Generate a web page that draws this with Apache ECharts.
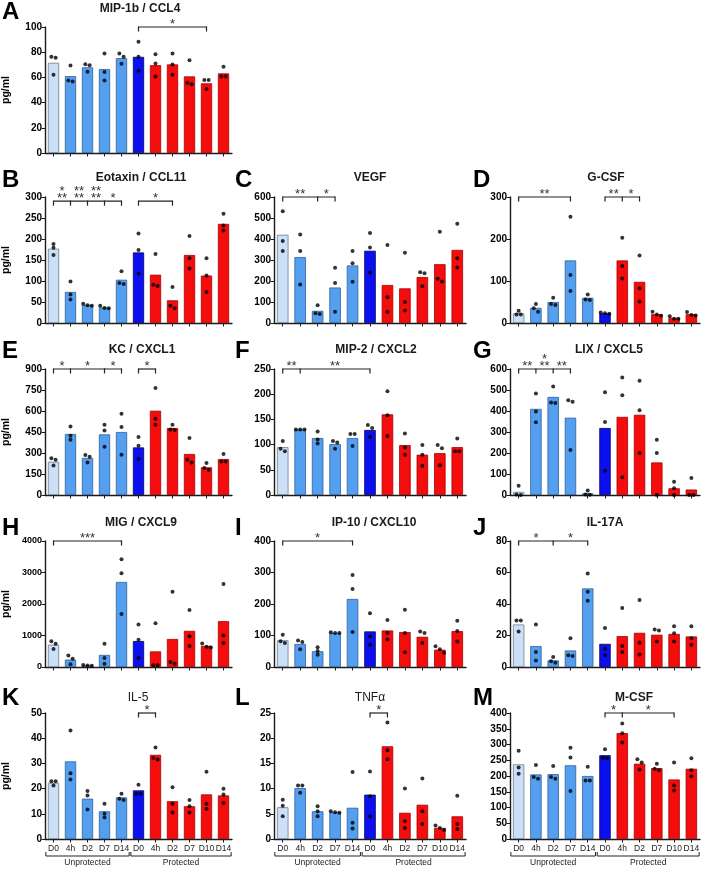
<!DOCTYPE html>
<html><head><meta charset="utf-8">
<script src="https://cdn.jsdelivr.net/npm/echarts@6/dist/echarts.min.js"></script>
<style>html,body{margin:0;padding:0;background:#fff}#c{width:704px;height:873px}</style>
</head><body><div id="c"></div>
<script>
// ---------- shared category data ----------
const xLabels = ['D0','4h','D2','D7','D14','D0','4h','D2','D7','D10','D14'];
const groupLabels = ['Unprotected','Protected'];
const groupRanges = [[0,4],[5,10]];

// ---------- A: MIP-1b / CCL4 ----------
const titleA = 'MIP-1b / CCL4';
const meanA = [71.6, 61, 68, 66.6, 75.3, 76.3, 69.7, 70.3, 60.8, 55.3, 63.2];
const ptsA = [[76.3,75.5,62.1],[69.5,57.6,56.8],[70.5,69.7,64.5],[79,64.2,57.6],[79,76.3,70.8],[88.2,76.3,65.3],[78.4,71,60.8],[79,70.3,62.1],[73.7,55.8,54.5],[57.9,57.9,50.8],[68.4,60.8,60.8]];
const ticksA = [0,20,40,60,80,100];
const sigBarsA = [[5,9,100,[]]];
const sigStarsA = [[7,100,'*']];

// ---------- B: Eotaxin / CCL11 ----------
const titleB = 'Eotaxin / CCL11';
const meanB = [177, 74, 43, 37, 103, 168, 115, 54, 162, 113, 236];
const ptsB = [[188,179,162],[99,68,56],[46,42,41],[41,36,35],[123,95,93],[213,174,118],[164,91,88],[86,41,35],[207,154,130],[154,113,74],[260,232,220]];
const ticksB = [0,50,100,150,200,250,300];
const sigBarsB = [[0,4,290,[1,2,3]],[5,7,290,[]]];
const sigStarsB = [[0.5,290,'**',1],[0.5,290,'*',2],[1.5,290,'**',1],[1.5,290,'**',2],[2.5,290,'**',1],[2.5,290,'**',2],[3.5,290,'*',1],[6,290,'*',1]];

// ---------- C: VEGF ----------
const titleC = 'VEGF';
const meanC = [420, 314, 58, 169, 274, 344, 181, 165, 219, 280, 348];
const ptsC = [[532,390,343],[422,343,183],[84,47,43],[263,190,53],[343,285,197],[429,360,241],[371,123,53],[335,100,60],[242,237,175],[434,211,198],[473,308,264]];
const ticksC = [0,100,200,300,400,500,600];
const sigBarsC = [[0,3,600,[2]]];
const sigStarsC = [[1,600,'**'],[2.5,600,'*']];

// ---------- D: G-CSF ----------
const titleD = 'G-CSF';
const meanD = [23, 36, 50, 149, 60, 23, 149, 98, 21, 12, 21];
const ptsD = [[29,20,20],[45,35,27],[60,45,43],[253,114,76],[68,56,55],[25,23,22],[203,136,106],[161,83,51],[27,20,17],[16,10,10],[26,19,18]];
const ticksD = [0,100,200,300];
const sigBarsD = [[0,3,300,[]],[5,7,300,[6]]];
const sigStarsD = [[1.5,300,'**'],[5.5,300,'**'],[6.5,300,'*']];

// ---------- E: KC / CXCL1 ----------
const titleE = 'KC / CXCL1';
const meanE = [238, 436, 265, 433, 450, 340, 602, 478, 293, 198, 257];
const ptsE = [[262,252,210],[490,423,395],[286,274,233],[502,460,345],[581,486,288],[414,352,257],[764,545,502],[502,467,465],[407,252,233],[229,193,179],[293,240,240]];
const ticksE = [0,150,300,450,600,750,900];
const sigBarsE = [[0,4,900,[1,3]],[5,6,900,[]]];
const sigStarsE = [[0.5,900,'*'],[2,900,'*'],[3.5,900,'*'],[5.5,900,'*']];

// ---------- F: MIP-2 / CXCL2 ----------
const titleF = 'MIP-2 / CXCL2';
const meanF = [95, 130, 113, 101, 113, 129, 160, 99, 80, 83, 95];
const ptsF = [[107,92,87],[130,130,130],[126,110,102],[107,104,92],[121,121,97],[139,133,115],[206,158,117],[122,94,80],[99,80,58],[99,93,59],[112,87,87]];
const ticksF = [0,50,100,150,200,250];
const sigBarsF = [[0,5,250,[1]]];
const sigStarsF = [[0.5,250,'**'],[3,250,'**']];

// ---------- G: LIX / CXCL5 ----------
const titleG = 'LIX / CXCL5';
const meanG = [15, 410, 467, 368, 8, 319, 372, 382, 155, 32, 26];
const ptsG = [[44,2,0],[483,398,346],[517,441,438],[451,444,214],[21,2,1],[489,348,116],[560,475,84],[544,403,200],[263,200,0],[63,32,0],[81,0,0]];
const ticksG = [0,100,200,300,400,500,600];
const sigBarsG = [[0,3,600,[1,2]]];
const sigStarsG = [[0.5,600,'**',1],[1.5,600,'**',1],[1.5,600,'*',2],[2.5,600,'**',1]];

// ---------- H: MIG / CXCL9 ----------
const titleH = 'MIG / CXCL9';
const meanH = [710, 235, 50, 385, 2700, 825, 495, 890, 1148, 670, 1455];
const ptsH = [[820,740,570],[368,263,84],[60,45,40],[737,284,105],[3421,2979,1684],[1347,863,284],[1389,53,53],[2389,158,105],[1810,979,663],[750,640,620],[2632,1000,758]];
const ticksH = [0,1000,2000,3000,4000];
const sigBarsH = [[0,4,4000,[]]];
const sigStarsH = [[2,4000,'***']];

// ---------- I: IP-10 / CXCL10 ----------
const titleI = 'IP-10 / CXCL10';
const meanI = [85, 73, 50, 108, 216, 113, 116, 111, 96, 55, 114];
const ptsI = [[102,82,76],[84,79,56],[63,51,39],[110,108,108],[292,248,111],[171,98,71],[149,108,87],[182,108,47],[113,108,76],[66,56,45],[147,114,81]];
const ticksI = [0,100,200,300,400];
const sigBarsI = [[0,4,400,[]]];
const sigStarsI = [[2,400,'*']];

// ---------- J: IL-17A ----------
const titleJ = 'IL-17A';
const meanJ = [27, 13.3, 4.2, 10.5, 49.9, 14.7, 19.6, 21.7, 20.5, 21, 19.4];
const ptsJ = [[29.5,29.5,22.5],[27,9.5,4.2],[6.3,3.6,2.7],[18.3,7.4,7],[59.4,47.8,42.1],[24.8,11.6,7.4],[37.5,13.3,9.5],[42.5,15.4,8],[23.8,23.2,16.2],[25.9,21.5,16.2],[25.9,18.3,14.1]];
const ticksJ = [0,20,40,60,80];
const sigBarsJ = [[0,4,80,[2]]];
const sigStarsJ = [[1,80,'*'],[3,80,'*']];

// ---------- K: IL-5 ----------
const titleK = 'IL-5';
const meanK = [22.3, 30.8, 16, 11, 16.5, 19.3, 33.4, 15, 13, 17.7, 17.3];
const ptsK = [[22.9,22.9,21.2],[43.1,26.1,23.6],[19,17.3,11.7],[14,10,8.5],[18,16,15.5],[21.5,18,18],[36.3,32.1,31.5],[20.5,14,10.5],[15.5,13,10.5],[26.7,14,12],[19.9,17.7,14.3]];
const ticksK = [0,10,20,30,40,50];
const sigBarsK = [[5,6,50,[]]];
const sigStarsK = [[5.5,50,'*']];

// ---------- L: TNFα ----------
const titleL = 'TNFα';
const meanL = [6.3, 10.1, 5.5, 5.3, 6.2, 8.8, 18.4, 5.2, 6.8, 2.2, 4.5];
const ptsL = [[7.8,6.6,4.5],[10.6,10.6,9.2],[6.5,5.5,4.5],[5.5,5.3,5.2],[13.3,3.2,2.1],[13.4,8.5,4.5],[23.1,17.6,15.8],[10,3.5,2.2],[12,5.5,3],[2.7,2.2,1.8],[8.6,3,2]];
const ticksL = [0,5,10,15,20,25];
const sigBarsL = [[5,6,25,[]]];
const sigStarsL = [[5.5,25,'*']];

// ---------- M: M-CSF ----------
const titleM = 'M-CSF';
const meanM = [237, 205, 206, 234, 200, 266, 336, 239, 225, 189, 223];
const ptsM = [[280,227,207],[235,197,191],[232,197,191],[290,259,152],[229,186,186],[285,258,256],[367,336,306],[253,243,221],[239,223,218],[243,170,154],[256,218,199]];
const ticksM = [0,50,100,150,200,250,300,350,400];
const sigBarsM = [[5,9,400,[6]]];
const sigStarsM = [[5.5,400,'*'],[7.5,400,'*']];

// ---------- layout / style ----------
const FONT = 'Liberation Sans, Arial, sans-serif';
const colLeft = [41, 274, 510], colWidth = [191, 192, 190];
const rowTop = [27, 197, 369, 541, 713], plotH = 126;
const colLetterX = [2, 235, 473];
const letterY = [12, 180.5, 351.5, 528, 698];
const titleY = [8.5, 178, 350, 522.5, 697.5];
const barKind = ['light','mid','mid','mid','mid','dark','red','red','red','red','red'];
const barStyle = {
  light: {color:'#cbdff6', borderColor:'#6c7c90', borderWidth:0.8},
  mid:   {color:'#559ff0', borderColor:'#2e5f98', borderWidth:0.8},
  dark:  {color:'#0c10ee', borderColor:'#00006a', borderWidth:0.8},
  red:   {color:'#f50c0c', borderColor:'#a80000', borderWidth:0.8}
};

const panels = [
  {L:'A', t:titleA, m:meanA, p:ptsA, tk:ticksA, b:sigBarsA, s:sigStarsA, r:0, c:0, tx:140},
  {L:'B', t:titleB, m:meanB, p:ptsB, tk:ticksB, b:sigBarsB, s:sigStarsB, r:1, c:0, tx:141},
  {L:'C', t:titleC, m:meanC, p:ptsC, tk:ticksC, b:sigBarsC, s:sigStarsC, r:1, c:1, tx:370},
  {L:'D', t:titleD, m:meanD, p:ptsD, tk:ticksD, b:sigBarsD, s:sigStarsD, r:1, c:2, tx:606},
  {L:'E', t:titleE, m:meanE, p:ptsE, tk:ticksE, b:sigBarsE, s:sigStarsE, r:2, c:0, tx:142},
  {L:'F', t:titleF, m:meanF, p:ptsF, tk:ticksF, b:sigBarsF, s:sigStarsF, r:2, c:1, tx:376},
  {L:'G', t:titleG, m:meanG, p:ptsG, tk:ticksG, b:sigBarsG, s:sigStarsG, r:2, c:2, tx:609},
  {L:'H', t:titleH, m:meanH, p:ptsH, tk:ticksH, b:sigBarsH, s:sigStarsH, r:3, c:0, tx:141},
  {L:'I', t:titleI, m:meanI, p:ptsI, tk:ticksI, b:sigBarsI, s:sigStarsI, r:3, c:1, tx:374},
  {L:'J', t:titleJ, m:meanJ, p:ptsJ, tk:ticksJ, b:sigBarsJ, s:sigStarsJ, r:3, c:2, tx:605},
  {L:'K', t:titleK, m:meanK, p:ptsK, tk:ticksK, b:sigBarsK, s:sigStarsK, r:4, c:0, tx:138, light:true},
  {L:'L', t:titleL, m:meanL, p:ptsL, tk:ticksL, b:sigBarsL, s:sigStarsL, r:4, c:1, tx:370, light:true},
  {L:'M', t:titleM, m:meanM, p:ptsM, tk:ticksM, b:sigBarsM, s:sigStarsM, r:4, c:2, tx:634}
];

const grids = [], xAxes = [], yAxes = [], series = [], graphics = [];
const lineCol = '#1a1a1a';

panels.forEach((P, i) => {
  const max = P.tk[P.tk.length-1], step = P.tk[1]-P.tk[0];
  grids.push({left: colLeft[P.c], top: rowTop[P.r], width: colWidth[P.c], height: plotH});
  xAxes.push({type:'category', gridIndex:i, data:xLabels,
    axisLine:{lineStyle:{color:lineCol, width:1.4}},
    axisTick:{show:true, alignWithLabel:true, length:3.5, lineStyle:{color:lineCol, width:1}},
    axisLabel:{show:P.r===4, interval:0, fontSize:8.5, color:'#222', margin:5, fontFamily:FONT},
    splitLine:{show:false}});
  yAxes.push({type:'value', gridIndex:i, min:0, max:max, interval:step,
    axisLine:{show:true, lineStyle:{color:lineCol, width:1.4}},
    axisTick:{show:true, length:3.5, lineStyle:{color:lineCol, width:1}},
    axisLabel:{fontSize: P.L==='H'?9:10, fontWeight:'bold', color:'#000', margin:3, fontFamily:FONT,
      formatter: v => String(v)},
    splitLine:{show:false},
    name: P.c===0 ? 'pg/ml' : '', nameLocation:'middle', nameGap:33,
    nameTextStyle:{fontSize:10.5, fontWeight:'bold', color:'#000', fontFamily:FONT}});

  series.push({type:'bar', xAxisIndex:i, yAxisIndex:i, barWidth:'66%', silent:true,
    data: P.m.map((v,k) => ({value:v, itemStyle:barStyle[barKind[k]]}))});

  // dots: spread horizontally when they overlap (GraphPad style)
  const pxPerUnit = plotH / max;
  const dots = [];
  P.p.forEach((arr, k) => {
    const sorted = arr.slice().sort((a,b)=>b-a);
    let clusters = [];
    sorted.forEach(v => {
      const last = clusters[clusters.length-1];
      if (last && Math.abs(last[last.length-1]-v)*pxPerUnit < 3.5) last.push(v); else clusters.push([v]);
    });
    clusters.forEach(cl => cl.forEach((v,j) => {
      dots.push({value:[k, v], symbolOffset:[(j-(cl.length-1)/2)*4.3, 0]});
    }));
  });
  series.push({type:'scatter', xAxisIndex:i, yAxisIndex:i, symbolSize:4, silent:true, z:4,
    itemStyle:{color:'#000'}, data:dots});

  // significance brackets
  series.push({type:'custom', xAxisIndex:i, yAxisIndex:i, silent:true, z:5, clip:false,
    data: P.b.map(b => [b[0], b[2]]),
    renderItem: (params, api) => {
      const b = P.b[params.dataIndex];
      const a = api.coord([b[0], b[2]]), e = api.coord([b[1], b[2]]);
      const y = a[1];
      const st = {stroke:'#222', lineWidth:1.2};
      const ch = [{type:'line', shape:{x1:a[0], y1:y, x2:e[0], y2:y}, style:st}];
      [b[0], b[1]].concat(b[3]).forEach(t => {
        const x = api.coord([t, b[2]])[0];
        ch.push({type:'line', shape:{x1:x, y1:y-0.6, x2:x, y2:y+4.5}, style:st});
      });
      return {type:'group', children:ch};
    }});
  series.push({type:'custom', xAxisIndex:i, yAxisIndex:i, silent:true, z:5, clip:false,
    data: P.s.map(s => [Math.floor(s[0]), s[1]]),
    renderItem: (params, api) => {
      const s = P.s[params.dataIndex];
      const f0 = Math.floor(s[0]), f1 = Math.ceil(s[0]);
      const p0 = api.coord([f0, s[1]]), p1 = api.coord([f1, s[1]]);
      const x = p0[0] + (p1[0]-p0[0])*(s[0]-f0);
      const lift = s[3]===2 ? 7 : 0;
      return {type:'text', x:x, y:p0[1] + 3.5 - lift,
        style:{text:s[2], fontSize:13, fontFamily:FONT, fill:'#333', align:'center', verticalAlign:'bottom'}};
    }});

  // group brackets under bottom row
  if (P.r === 4) {
    series.push({type:'custom', xAxisIndex:i, yAxisIndex:i, silent:true, clip:false,
      data: groupRanges.map(g => [g[0], 0]),
      renderItem: (params, api) => {
        const g = groupRanges[params.dataIndex];
        const band = api.size([1,0])[0];
        const p0 = api.coord([g[0], 0]), p1 = api.coord([g[1], 0]);
        const xa = p0[0] - band*0.45, xb = p1[0] + band*0.45;
        const yl = p0[1] + 17;
        return {type:'group', children:[
          {type:'polyline', shape:{points:[[xa,yl-4],[xa,yl],[xb,yl],[xb,yl-4]]}, style:{stroke:'#222', lineWidth:1, fill:null}},
          {type:'text', x:(xa+xb)/2, y:yl+2, style:{text:groupLabels[params.dataIndex], fontSize:8.5, fontFamily:FONT, fill:'#222', align:'center', verticalAlign:'top'}}
        ]};
      }});
  }

  graphics.push({type:'text', x: colLetterX[P.c], y: letterY[P.r],
    style:{text:P.L, font:'bold 24px ' + FONT, fill:'#000', align:'left', verticalAlign:'middle', textAlign:'left', textVerticalAlign:'middle'}});
  graphics.push({type:'text', x: P.tx, y: titleY[P.r],
    style:{text:P.t, font:(P.light?'':'bold ') + '12px ' + FONT, fill:'#1a1a1a', align:'center', verticalAlign:'middle', textAlign:'center', textVerticalAlign:'middle'}});
});

const chart = echarts.init(document.getElementById('c'), null, {renderer:'canvas'});
chart.setOption({
  animation:false,
  backgroundColor:'#fff',
  textStyle:{fontFamily:FONT},
  grid:grids, xAxis:xAxes, yAxis:yAxes, series:series, graphic:graphics
});
</script>
</body></html>
